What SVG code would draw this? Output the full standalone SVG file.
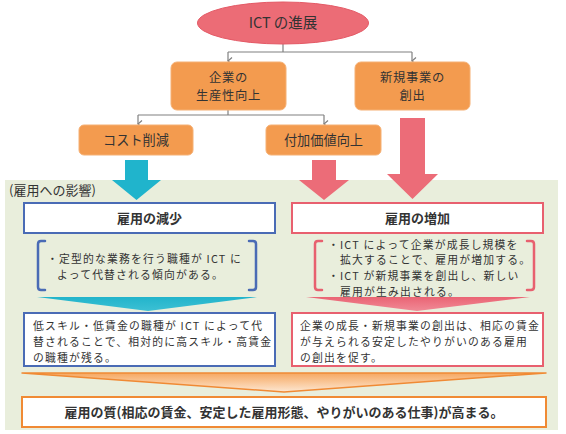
<svg xmlns="http://www.w3.org/2000/svg" width="566" height="434" viewBox="0 0 566 434">
<defs>
<style>
text{font-family:"Noto Sans CJK JP","Liberation Sans",sans-serif;fill:#333;}
.t14{font-size:13.2px;}
.t2{font-size:12.3px;letter-spacing:0.7px;}
.t13{font-size:13px;}
.b{font-size:13px;font-weight:bold;}
.body{font-size:10.8px;letter-spacing:1.2px;}
.obox{fill:#f39b4f;stroke:#f5b074;stroke-width:1;}
.conn{fill:none;stroke:#808080;stroke-width:1.2;}
</style>
<marker id="ah" markerWidth="8" markerHeight="8" refX="4" refY="6" orient="auto-start-reverse" markerUnits="userSpaceOnUse" viewBox="0 0 8 8">
<path d="M0.5,2 L4,6 L7.5,2" fill="none" stroke="#808080" stroke-width="1.2"/>
</marker>
<linearGradient id="gc" x1="0" y1="0" x2="0" y2="1">
<stop offset="0" stop-color="#22b4cb"/><stop offset="1" stop-color="#3cc0d4"/>
</linearGradient>
<linearGradient id="gp" x1="0" y1="0" x2="0" y2="1">
<stop offset="0" stop-color="#ea6474"/><stop offset="1" stop-color="#f08a96"/>
</linearGradient>
<linearGradient id="go" x1="0" y1="0" x2="0" y2="1">
<stop offset="0" stop-color="#f6a861"/><stop offset="1" stop-color="#fde7d2"/>
</linearGradient>
</defs>

<rect id="panel" x="5" y="180" width="553" height="250" fill="#e9eedc"/>

<g id="connectors">
<path class="conn" d="M283,44 V52 M228,52 H412"/>
<path class="conn" d="M228,52 V61" marker-end="url(#ah)"/>
<path class="conn" d="M412,52 V61" marker-end="url(#ah)"/>
<path class="conn" d="M228,110 V115 M138,115 H324"/>
<path class="conn" d="M138,115 V124" marker-end="url(#ah)"/>
<path class="conn" d="M324,115 V124" marker-end="url(#ah)"/>
<polygon id="arrow-cyan" points="125,160 148,160 148,180 161,180 136.5,200 112,180 125,180" fill="#20b4cc"/>
<polygon id="arrow-pink1" points="312,160 336,160 336,180 349,180 324,200 299,180 312,180" fill="#ec6c78"/>
<polygon id="arrow-pink2" points="400,118 425,118 425,174 438,174 412.5,199 387,174 400,174" fill="#ec6c78"/>
<polygon id="wedge-cyan" points="37,297 257,297 148,311" fill="url(#gc)"/>
<polygon id="wedge-pink" points="306,297 530,297 417,311" fill="url(#gp)"/>
<polygon id="wedge-orange" points="22,373 546,373 284,392" fill="url(#go)" stroke="#f08a34" stroke-width="1.5" stroke-linejoin="round"/>
</g>

<g id="ict">
<ellipse cx="283" cy="23" rx="85.5" ry="21" fill="#ec6c76" stroke="#e45a66" stroke-width="1"/>
<text x="283" y="28" text-anchor="middle" style="font-size:14.5px">ICT の進展</text>
</g>

<g id="productivity">
<rect class="obox" x="171" y="62" width="115" height="48" rx="6"/>
<text class="t2" text-anchor="middle"><tspan x="228.5" y="81.5">企業の</tspan><tspan x="228.5" y="99.5">生産性向上</tspan></text>
</g>

<g id="newbiz">
<rect class="obox" x="355" y="62" width="115" height="48" rx="6"/>
<text class="t2" text-anchor="middle"><tspan x="412.5" y="81.5">新規事業の</tspan><tspan x="412.5" y="99.5">創出</tspan></text>
</g>

<g id="costcut">
<rect class="obox" x="79" y="125" width="114" height="30" rx="5"/>
<text class="t14" x="136" y="144.5" text-anchor="middle">コスト削減</text>
</g>

<g id="valueadd">
<rect class="obox" x="266" y="125" width="115" height="30" rx="5"/>
<text class="t14" x="323.5" y="144.5" text-anchor="middle">付加価値向上</text>
</g>

<g id="impact-label">
<text class="t13" x="9" y="195">(雇用への影響)</text>
</g>

<g id="decrease">
<rect x="24" y="203" width="251" height="30" fill="#fff" stroke="#4a6bb5" stroke-width="2"/>
<text class="b" x="149.5" y="223" text-anchor="middle">雇用の減少</text>
</g>

<g id="decrease-detail">
<path d="M45,241 H41 Q38,241 38,244 V287 Q38,290 41,290 H45" fill="none" stroke="#4a6bb5" stroke-width="2.5" stroke-linecap="round"/>
<path d="M249,241 H253 Q256,241 256,244 V287 Q256,290 253,290 H249" fill="none" stroke="#4a6bb5" stroke-width="2.5" stroke-linecap="round"/>
<text class="body"><tspan x="47" y="263">・定型的な業務を行う職種が ICT に</tspan><tspan x="57" y="279">よって代替される傾向がある。</tspan></text>
</g>

<g id="decrease-result">
<rect x="24" y="313" width="251" height="53" fill="#fff" stroke="#4a6bb5" stroke-width="2"/>
<text class="body"><tspan x="33" y="330">低スキル・低賃金の職種が ICT によって代</tspan><tspan x="33" y="346">替されることで、相対的に高スキル・高賃金</tspan><tspan x="33" y="362">の職種が残る。</tspan></text>
</g>

<g id="increase">
<rect x="292" y="203" width="251" height="30" fill="#fff" stroke="#e8606f" stroke-width="2"/>
<text class="b" x="417.5" y="223" text-anchor="middle">雇用の増加</text>
</g>

<g id="increase-detail">
<path d="M322,241 H318 Q315,241 315,244 V287 Q315,290 318,290 H322" fill="none" stroke="#e8606f" stroke-width="2.5" stroke-linecap="round"/>
<path d="M527,241 H531 Q534,241 534,244 V287 Q534,290 531,290 H527" fill="none" stroke="#e8606f" stroke-width="2.5" stroke-linecap="round"/>
<text class="body"><tspan x="328" y="248.5">・ICT によって企業が成長し規模を</tspan><tspan x="340" y="264.2">拡大することで、雇用が増加する。</tspan><tspan x="328" y="279.9">・ICT が新規事業を創出し、新しい</tspan><tspan x="340" y="295.6">雇用が生み出される。</tspan></text>
</g>

<g id="increase-result">
<rect x="292" y="313" width="251" height="53" fill="#fff" stroke="#e8606f" stroke-width="2"/>
<text class="body"><tspan x="300" y="330">企業の成長・新規事業の創出は、相応の賃金</tspan><tspan x="300" y="346">が与えられる安定したやりがいのある雇用</tspan><tspan x="300" y="362">の創出を促す。</tspan></text>
</g>

<g id="quality">
<rect x="22" y="397" width="524" height="30" fill="#fff" stroke="#f08a34" stroke-width="2"/>
<text class="b" x="284" y="417" text-anchor="middle">雇用の質(相応の賃金、安定した雇用形態、やりがいのある仕事)が高まる。</text>
</g>
</svg>
